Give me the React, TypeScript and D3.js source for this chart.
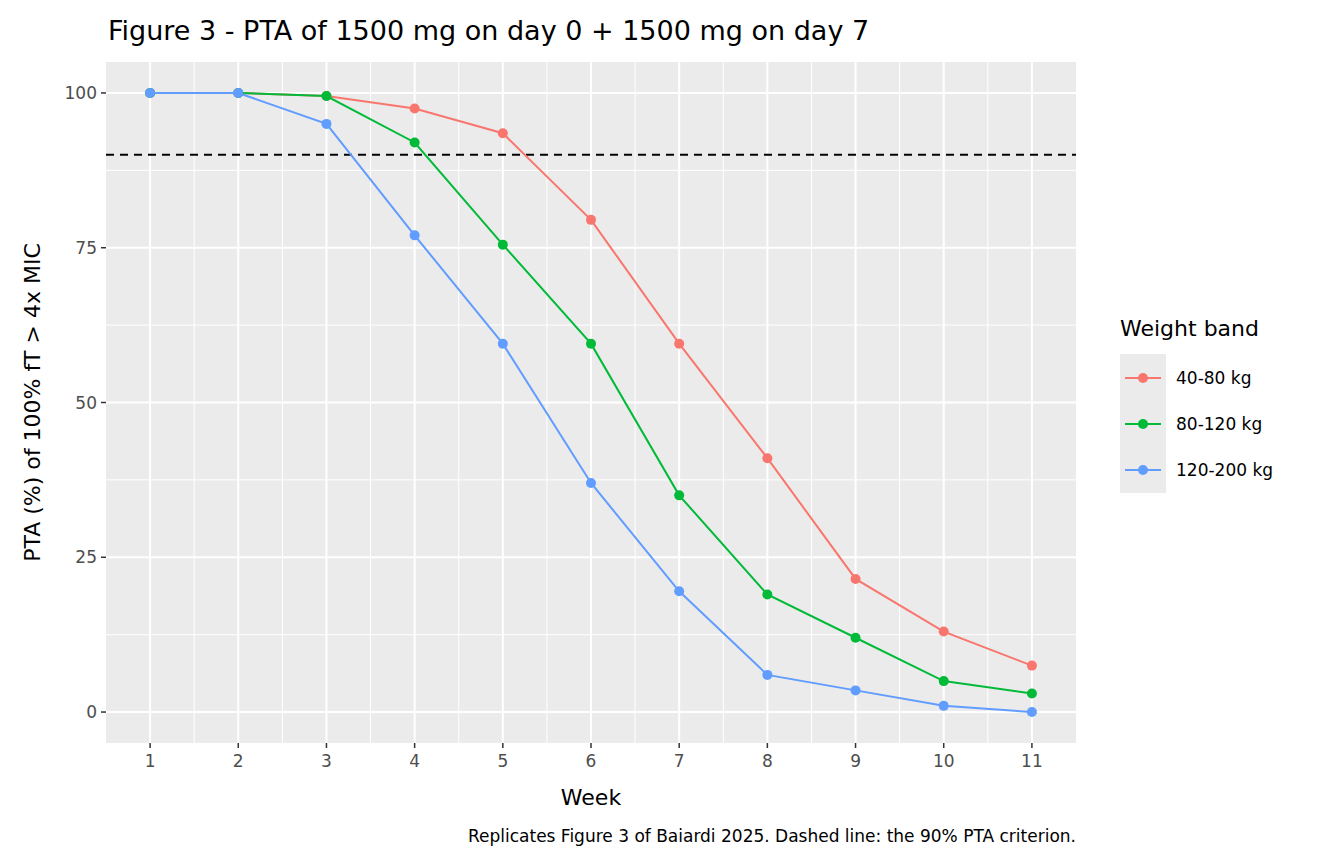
import React from 'react';
import { scaleLinear, line } from 'd3';

const weeks = [1, 2, 3, 4, 5, 6, 7, 8, 9, 10, 11];
const bandNames = ['40-80 kg', '80-120 kg', '120-200 kg'];
const bandColors = ['#F8766D', '#00BA38', '#619CFF'];
const pta40 = [100, 100, 99.5, 97.5, 93.5, 79.5, 59.5, 41, 21.5, 13, 7.5];
const pta80 = [100, 100, 99.5, 92, 75.5, 59.5, 35, 19, 12, 5, 3];
const pta120 = [100, 100, 95, 77, 59.5, 37, 19.5, 6, 3.5, 1, 0];
const yTicks = [0, 25, 50, 75, 100];
const criterion = 90;

const series = [pta40, pta80, pta120];

function App() {
  const left = 106, right = 1076, top = 62, bottom = 743;
  const x = scaleLinear().domain([0.5, 11.5]).range([left, right]);
  const y = scaleLinear().domain([-5, 105]).range([bottom, top]);
  const path = line<number>().x((_, i) => x(weeks[i])).y(d => y(d));
  const minorX = weeks.slice(0, -1).map(w => w + 0.5);
  const minorY = [12.5, 37.5, 62.5, 87.5];

  return (
    <svg width={1344} height={864} style={{ position: 'absolute', left: 0, top: 0, fontFamily: "'DejaVu Sans'" }}>
      <rect width={1344} height={864} fill="white" />
      <text x={108} y={40} fontSize={27}>Figure 3 - PTA of 1500 mg on day 0 + 1500 mg on day 7</text>
      <rect x={left} y={top} width={right - left} height={bottom - top} fill="#EBEBEB" />
      {minorX.map(v => <line key={'mx' + v} x1={x(v)} x2={x(v)} y1={top} y2={bottom} stroke="white" strokeWidth={1} />)}
      {minorY.map(v => <line key={'my' + v} x1={left} x2={right} y1={y(v)} y2={y(v)} stroke="white" strokeWidth={1} />)}
      {weeks.map(v => <line key={'gx' + v} x1={x(v)} x2={x(v)} y1={top} y2={bottom} stroke="white" strokeWidth={2} />)}
      {yTicks.map(v => <line key={'gy' + v} x1={left} x2={right} y1={y(v)} y2={y(v)} stroke="white" strokeWidth={2} />)}
      <line x1={left} x2={right} y1={y(criterion)} y2={y(criterion)} stroke="black" strokeWidth={2} strokeDasharray="8,6" />
      {series.map((s, k) => (
        <g key={k}>
          <path d={path(s) || ''} fill="none" stroke={bandColors[k]} strokeWidth={2} />
          {s.map((v, i) => <circle key={i} cx={x(weeks[i])} cy={y(v)} r={5} fill={bandColors[k]} />)}
        </g>
      ))}
      {weeks.map(v => (
        <g key={'tx' + v}>
          <line x1={x(v)} x2={x(v)} y1={bottom} y2={bottom + 5} stroke="#333" strokeWidth={1.5} />
          <text x={x(v)} y={bottom + 24} fontSize={17} fill="#4D4D4D" textAnchor="middle">{v}</text>
        </g>
      ))}
      {yTicks.map(v => (
        <g key={'ty' + v}>
          <line x1={left - 5} x2={left} y1={y(v)} y2={y(v)} stroke="#333" strokeWidth={1.5} />
          <text x={left - 9} y={y(v) + 6} fontSize={17} fill="#4D4D4D" textAnchor="end">{v}</text>
        </g>
      ))}
      <text x={(left + right) / 2} y={805} fontSize={22} textAnchor="middle">Week</text>
      <text transform={`translate(40,${(top + bottom) / 2}) rotate(-90)`} fontSize={22} textAnchor="middle">PTA (%) of 100% fT &gt; 4x MIC</text>
      <text x={1120} y={336} fontSize={22}>Weight band</text>
      <rect x={1120} y={354} width={46} height={139} fill="#EBEBEB" />
      {bandNames.map((n, k) => {
        const cy = 378 + k * 46;
        return (
          <g key={n}>
            <line x1={1125} x2={1161} y1={cy} y2={cy} stroke={bandColors[k]} strokeWidth={2} />
            <circle cx={1143} cy={cy} r={5} fill={bandColors[k]} />
            <text x={1176} y={cy + 6} fontSize={17}>{n}</text>
          </g>
        );
      })}
      <text x={right} y={842} fontSize={17} textAnchor="end">Replicates Figure 3 of Baiardi 2025. Dashed line: the 90% PTA criterion.</text>
    </svg>
  );
}

export default App;
